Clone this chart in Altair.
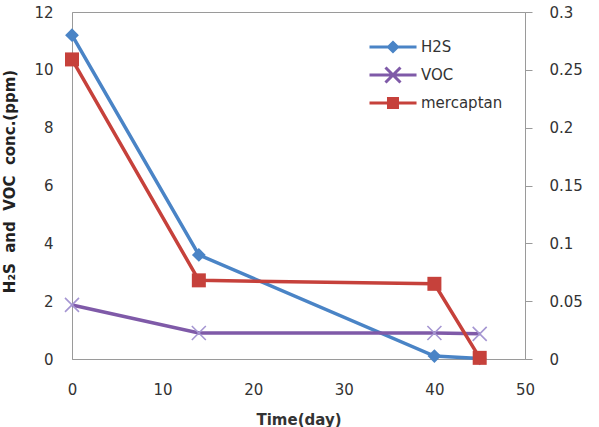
import altair as alt
import pandas as pd

days = [0, 14, 40, 45]
h2s = [11.2, 3.6, 0.1, 0.02]
voc = [1.87, 0.9, 0.9, 0.87]
mercaptan = [0.259, 0.068, 0.065, 0.001]

series_names = ["H2S", "VOC", "mercaptan"]
series_colors = ["#4a84c6", "#7f5aa8", "#c6413b"]
x_ticks = [0, 10, 20, 30, 40, 50]
left_ticks = [0, 2, 4, 6, 8, 10, 12]
right_ticks = [0, 0.05, 0.1, 0.15, 0.2, 0.25, 0.3]

h2s_df = pd.DataFrame({"day": days, "value": h2s})
voc_df = pd.DataFrame({"day": days, "value": voc})
merc_df = pd.DataFrame({"day": days, "value": mercaptan})
legend_df = pd.DataFrame({"day": [0, 0, 0], "value": [0, 0, 0], "series": series_names})

FONT = "DejaVu Sans"
SP = "\u2002\u2009"

x_enc = alt.X(
    "day:Q",
    scale=alt.Scale(domain=[0, 50], nice=False, zero=False),
    axis=alt.Axis(
        values=x_ticks, title="Time(day)", grid=False, ticks=False, tickSize=0,
        labelFlush=False, labelPadding=23, titlePadding=15, domainColor="#9a9a9a",
        labelColor="#333333", titleColor="#333333",
        labelFontSize=15, titleFontSize=15, titleFontWeight="bold",
        labelFont=FONT, titleFont=FONT,
    ),
)

y_left = alt.Y(
    "value:Q",
    scale=alt.Scale(domain=[0, 12], nice=False),
    axis=alt.Axis(
        values=left_ticks, title=f"H₂S{SP}and{SP}VOC{SP}conc.(ppm)", grid=False,
        ticks=False, tickSize=0, labelFlush=False, labelPadding=19,
        domainColor="#9a9a9a", labelColor="#333333", titleColor="#222222",
        labelFontSize=15, titleFontSize=15, titleFontWeight="bold",
        labelFont=FONT, titleFont=FONT,
        titleX=-63, titleY=169, titleAngle=270, titleAlign="center",
        titleBaseline="middle",
    ),
)

y_right = alt.Y(
    "value:Q",
    scale=alt.Scale(domain=[0, 0.3], nice=False),
    axis=alt.Axis(
        orient="right", values=right_ticks, format="~g", title=None, grid=False,
        ticks=True, tickSize=7, tickColor="#9a9a9a", labelPadding=17,
        labelFlush=False, domainColor="#9a9a9a", labelColor="#333333",
        labelFontSize=15, labelFont=FONT,
    ),
)

# legend symbols: line segment with marker (nested outlines so the marker looks solid)
legend_shapes = [
    "M-1,0H5.27M2.13,-0.6L2.73,0L2.13,0.6L1.53,0ZM2.13,-0.25L2.38,0L2.13,0.25L1.88,0Z",
    "M-1,0H5.27M1.13,-1L3.13,1M1.13,1L3.13,-1",
    "M-1,0H5.27M1.53,-0.6H2.73V0.6H1.53ZM1.88,-0.25H2.38V0.25H1.88Z",
]

legend = alt.Legend(
    title=None, orient="none", legendX=296, legendY=26, padding=0,
    symbolSize=225, symbolStrokeWidth=3, symbolOpacity=1, labelOffset=35,
    labelFontSize=15, labelFont=FONT, labelColor="#333333", rowPadding=3,
)

LW = 3.5

h2s_line = alt.Chart(h2s_df).mark_line(strokeWidth=LW, color=series_colors[0]).encode(
    x=x_enc, y=y_left
)
voc_line = alt.Chart(voc_df).mark_line(strokeWidth=LW, color=series_colors[1]).encode(
    x=x_enc, y=y_left
)
h2s_pts = alt.Chart(h2s_df).mark_point(
    shape="diamond", filled=True, size=190, opacity=1, color=series_colors[0]
).encode(x=x_enc, y=y_left)
voc_pts = alt.Chart(voc_df).mark_point(
    shape="M-1,-1L1,1M-1,1L1,-1", filled=False, size=196, opacity=1,
    stroke="#a596d2", strokeWidth=1.6,
).encode(x=x_enc, y=y_left)
legend_layer = alt.Chart(legend_df).mark_point(filled=False, opacity=0).encode(
    x=x_enc,
    y=y_left,
    color=alt.Color(
        "series:N", scale=alt.Scale(domain=series_names, range=series_colors),
        legend=legend,
    ),
    shape=alt.Shape(
        "series:N",
        scale=alt.Scale(domain=series_names, range=legend_shapes),
        legend=legend,
    ),
)
left = alt.layer(h2s_line, voc_line, h2s_pts, voc_pts, legend_layer)

merc_line = alt.Chart(merc_df).mark_line(strokeWidth=LW, color=series_colors[2]).encode(
    x=x_enc, y=y_right
)
merc_pts = alt.Chart(merc_df).mark_point(
    shape="square", filled=True, size=196, opacity=1, color=series_colors[2]
).encode(x=x_enc, y=y_right)
right = alt.layer(merc_line, merc_pts)

chart = (
    alt.layer(left, right)
    .resolve_scale(y="independent")
    .properties(
        width=453, height=347,
        autosize=alt.AutoSizeParams(type="none"),
        padding={"left": 72, "top": 12, "right": 74, "bottom": 68},
        background="white",
    )
    .configure_view(stroke="#9a9a9a", strokeWidth=1)
)

chart.save("out.html", embed_options={"renderer": "svg", "actions": False})
